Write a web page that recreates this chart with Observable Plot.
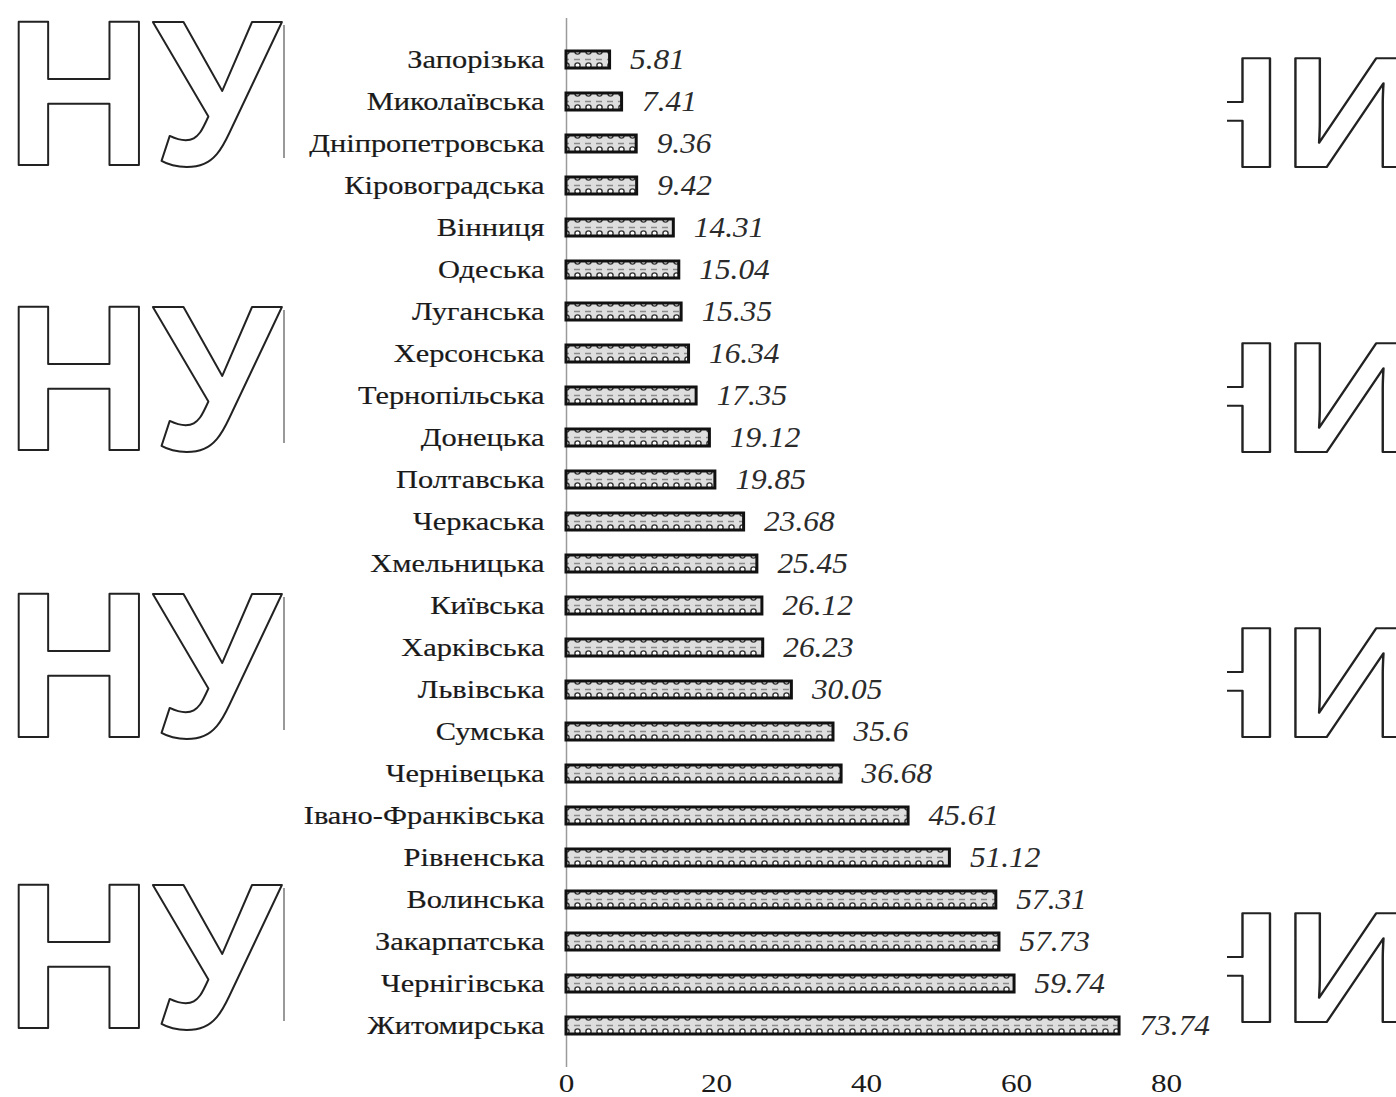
<!DOCTYPE html>
<html><head><meta charset="utf-8">
<script src="https://cdn.jsdelivr.net/npm/d3@7"></script>
<script src="https://cdn.jsdelivr.net/npm/@observablehq/plot@0.6"></script>
<style>
html,body{margin:0;padding:0;background:#fff;}
#wrap{position:relative;width:1396px;height:1097px;overflow:hidden;background:#fff;}
#wm,#chart{position:absolute;left:0;top:0;}
</style></head><body>
<div id="wrap"><svg id="wm" width="1396" height="1097"></svg><div id="chart"></div></div>
<script>
// ---- data ----
const regions = ["Запорізька","Миколаївська","Дніпропетровська","Кіровоградська","Вінниця","Одеська","Луганська","Херсонська","Тернопільська","Донецька","Полтавська","Черкаська","Хмельницька","Київська","Харківська","Львівська","Сумська","Чернівецька","Івано-Франківська","Рівненська","Волинська","Закарпатська","Чернігівська","Житомирська"];
const values = [5.81,7.41,9.36,9.42,14.31,15.04,15.35,16.34,17.35,19.12,19.85,23.68,25.45,26.12,26.23,30.05,35.6,36.68,45.61,51.12,57.31,57.73,59.74,73.74];
const valueLabels = ["5.81","7.41","9.36","9.42","14.31","15.04","15.35","16.34","17.35","19.12","19.85","23.68","25.45","26.12","26.23","30.05","35.6","36.68","45.61","51.12","57.31","57.73","59.74","73.74"];
const xTicks = [0,20,40,60,80];
const watermarkLeft = ["НУ","НУ","НУ","НУ"];
const watermarkRight = ["НИ","НИ","НИ","НИ"];

const data = regions.map((r,i)=>({region:r, value:values[i], label:valueLabels[i]}));

const serif = "'Liberation Serif','Times New Roman',serif";
const chart = Plot.plot({
  width:1396, height:1097,
  marginLeft:566, marginRight:230, marginTop:18, marginBottom:30,
  style:{background:"transparent", fontFamily:serif, fontSize:"26px", color:"#1a1a1a"},
  x:{domain:[0,80], label:null},
  y:{domain:regions, label:null, padding:0.6},
  marks:[
    Plot.ruleX([0], {stroke:"#9a9a9a", strokeWidth:1.5}),
    Plot.barX(data, {y:"region", x:"value", fill:"url(#scallop)", stroke:"#111", strokeWidth:3}),
    Plot.text(data, {y:"region", x:"value", text:"label", textAnchor:"start", dx:20, fontStyle:"italic", fontSize:29, fill:"#2b2b2b", className:"vlab"}),
    Plot.axisX({ticks:xTicks, tickSize:0, tickPadding:6, fontSize:26, tickFormat:d=>String(d), className:"xax"}),
    Plot.axisY({tickSize:0, tickPadding:22, fontSize:26, className:"yax"})
  ]
});

// pattern for bars
const ns = "http://www.w3.org/2000/svg";
const defs = document.createElementNS(ns,"defs");
defs.innerHTML = `<pattern id="scallop" patternUnits="userSpaceOnUse" width="11" height="14">
  <rect width="11" height="14" fill="#dedede"/>
  <line x1="2" y1="3.5" x2="8" y2="3.5" stroke="#8a8a8a" stroke-width="1.5"/>
  <circle cx="5.5" cy="9.5" r="2.6" fill="#fff" stroke="#333" stroke-width="1.4"/>
</pattern>`;
chart.insertBefore(defs, chart.firstChild);

// horizontally stretch text glyphs (scan is wider than tall)
function stretch(sel, sx){
  chart.querySelectorAll(sel).forEach(el=>{
    const t = el.getAttribute("transform")||"";
    el.setAttribute("transform", `${t} scale(${sx},1)`);
  });
}
stretch(".yax text", 1.17);
stretch(".xax text", 1.2);
stretch(".vlab text", 1.08);
chart.querySelectorAll(".yax text").forEach(el=>{el.setAttribute("stroke","#1a1a1a");el.setAttribute("stroke-width","0.2");});

document.getElementById("chart").appendChild(chart);

// watermarks
const wm = d3.select("#wm");
wm.append("defs").append("clipPath").attr("id","rclip").append("rect").attr("x",1227).attr("y",0).attr("width",200).attr("height",1097);
const leftBase = [165,450,737,1028];
watermarkLeft.forEach((t,i)=>{
  wm.append("text").attr("x",5).attr("y",leftBase[i]).text(t)
    .attr("font-family","'Liberation Sans',Arial,sans-serif").attr("font-weight","bold")
    .attr("font-size",208).attr("textLength",275).attr("lengthAdjust","spacingAndGlyphs")
    .attr("fill","#fff").attr("stroke","#222").attr("stroke-width",2).attr("stroke-linejoin","round");
  wm.append("line").attr("x1",284).attr("x2",284).attr("y1",leftBase[i]-140).attr("y2",leftBase[i]-7)
    .attr("stroke","#555").attr("stroke-width",1.2);
});
const rightBase = [167,452,737,1022];
watermarkRight.forEach((t,i)=>{
  wm.append("text").attr("x",1145).attr("y",rightBase[i]).text(t)
    .attr("clip-path","url(#rclip)")
    .attr("font-family","'Liberation Sans',Arial,sans-serif").attr("font-weight","bold")
    .attr("font-size",158).attr("textLength",275).attr("lengthAdjust","spacingAndGlyphs")
    .attr("fill","#fff").attr("stroke","#222").attr("stroke-width",2).attr("stroke-linejoin","round");
});
</script>
</body></html>
